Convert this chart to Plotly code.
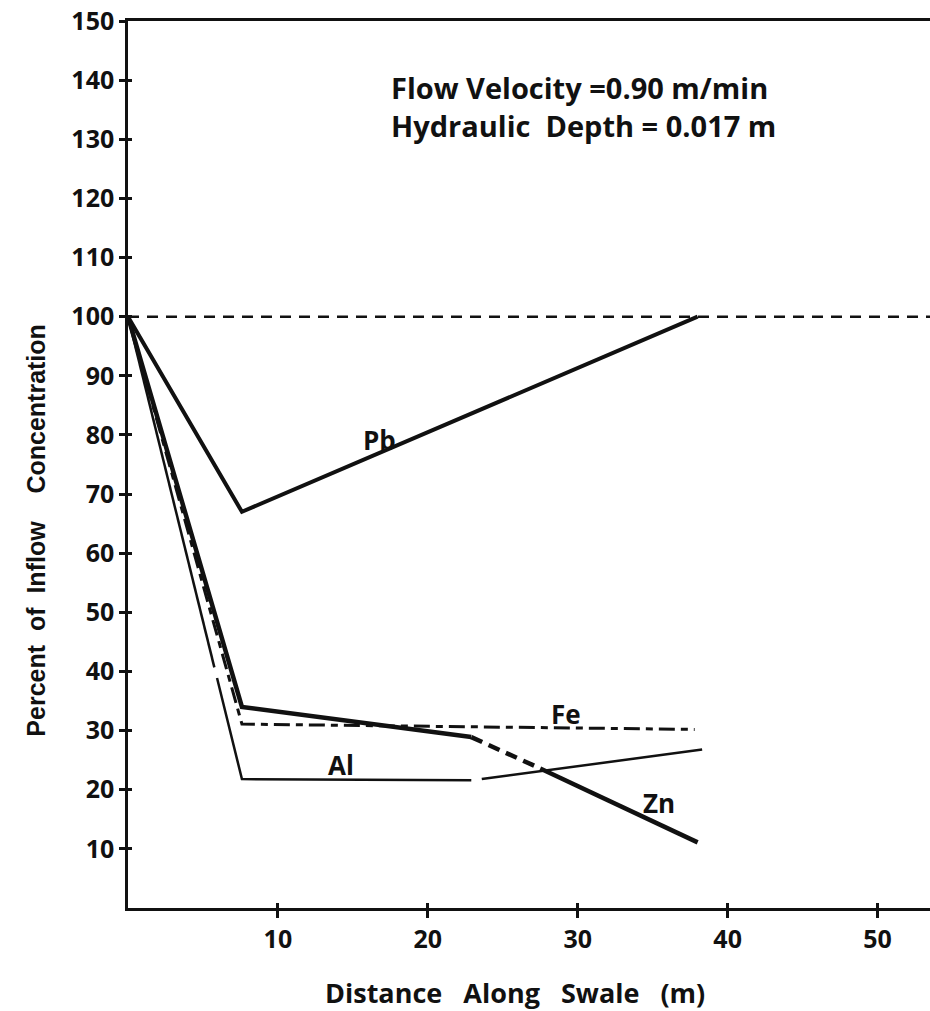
import plotly.graph_objects as go

# ---- data ----
pb_x = [0, 7.6, 38.0]
pb_y = [100, 67, 100]

zn_x = [0, 7.6, 22.9, 27.5, 38.0]
zn_y = [100, 34, 28.9, 23.6, 11.1]

fe_x = [0, 7.6, 37.8]
fe_y = [100, 31.1, 30.2]

al_x = [0, 5.76, None, 5.94, 7.6, 22.9, None, 23.6, 38.3]
al_y = [100, 40.7, None, 38.9, 21.8, 21.6, None, 21.8, 26.8]

ref_x = [0, 53.5]
ref_y = [100, 100]

x_ticks = [10, 20, 30, 40, 50]
y_ticks = [10, 20, 30, 40, 50, 60, 70, 80, 90, 100, 110, 120, 130, 140, 150]

labels = [("Pb", 16.8, 79.1), ("Fe", 29.2, 32.8), ("Al", 14.2, 24.1), ("Zn", 35.4, 17.7)]

FONT = "Open Sans"
BLK = "#111111"

fig = go.Figure()

fig.add_trace(go.Scatter(x=ref_x, y=ref_y, mode="lines", xaxis="x2", yaxis="y2",
                         line=dict(color=BLK, width=2.5, dash="11px,8px"), showlegend=False,
                         hoverinfo="skip"))
fig.add_trace(go.Scatter(x=pb_x, y=pb_y, mode="lines", line=dict(color=BLK, width=4), showlegend=False))
# Zn: solid / dashed / solid
fig.add_trace(go.Scatter(x=zn_x[0:3], y=zn_y[0:3], mode="lines", line=dict(color=BLK, width=4.5), showlegend=False))
fig.add_trace(go.Scatter(x=zn_x[2:4], y=zn_y[2:4], mode="lines", line=dict(color=BLK, width=4.5, dash="12px,7px"), showlegend=False))
fig.add_trace(go.Scatter(x=zn_x[3:5], y=zn_y[3:5], mode="lines", line=dict(color=BLK, width=4.5), showlegend=False))
fig.add_trace(go.Scatter(x=fe_x, y=fe_y, mode="lines", line=dict(color=BLK, width=3, dash="16px,6px,7px,6px"), showlegend=False))
fig.add_trace(go.Scatter(x=al_x, y=al_y, mode="lines", line=dict(color=BLK, width=2.5), showlegend=False,
                         connectgaps=False))

for txt, lx, ly in labels:
    fig.add_annotation(x=lx, y=ly, text=txt, showarrow=False,
                       font=dict(family=FONT, size=26, color=BLK, weight="bold"))

fig.add_annotation(x=17.4, y=138.7, xanchor="left", text="Flow Velocity =0.90 m/min", showarrow=False,
                   font=dict(family=FONT, size=29, color=BLK, weight="bold"))
fig.add_annotation(x=17.4, y=132.4, xanchor="left", text="Hydraulic  Depth = 0.017 m", showarrow=False,
                   font=dict(family=FONT, size=29, color=BLK, weight="bold"))

fig.add_annotation(xref="paper", yref="paper", x=0.483, y=-0.0958, yanchor="middle",
                   text="Distance   Along   Swale   (m)", showarrow=False,
                   font=dict(family=FONT, size=27, color=BLK, weight="bold"))
fig.add_annotation(xref="paper", yref="paper", x=-0.134, y=0.426, textangle=-90,
                   text="Percent  of  Inflow    Concentration", showarrow=False,
                   font=dict(family="Liberation Sans", size=25, color=BLK, weight="bold"))

axis_common = dict(showgrid=False, zeroline=False, linecolor=BLK, linewidth=2.5, tickcolor=BLK, tickwidth=2.5)

fig.update_layout(
    width=930, height=1011,
    margin=dict(l=128, r=0, t=21, b=103),
    plot_bgcolor="white", paper_bgcolor="white",
    xaxis=dict(range=[0, 53.5], tickvals=x_ticks, ticktext=[str(v) for v in x_ticks],
               ticks="outside", ticklen=7, showline=True, mirror=True,
               tickfont=dict(family=FONT, size=25, color=BLK, weight="bold"), **axis_common),
    yaxis=dict(range=[0, 150], tickvals=y_ticks, ticktext=[str(v) for v in y_ticks],
               ticks="outside", ticklen=6, showline=True, mirror=False, ticklabelstandoff=0,
               tickfont=dict(family=FONT, size=25, color=BLK, weight="bold"), **axis_common),
    xaxis2=dict(range=[0, 53.5], overlaying="x", tickvals=x_ticks, showticklabels=False,
                ticks="inside", ticklen=5, showline=False, anchor="y2", side="bottom", **axis_common),
    yaxis2=dict(range=[0, 150], overlaying="y", tickvals=y_ticks, showticklabels=False,
                ticks="inside", ticklen=4, showline=False, anchor="x2", side="left", **axis_common),
)

fig.write_html("out.html")
